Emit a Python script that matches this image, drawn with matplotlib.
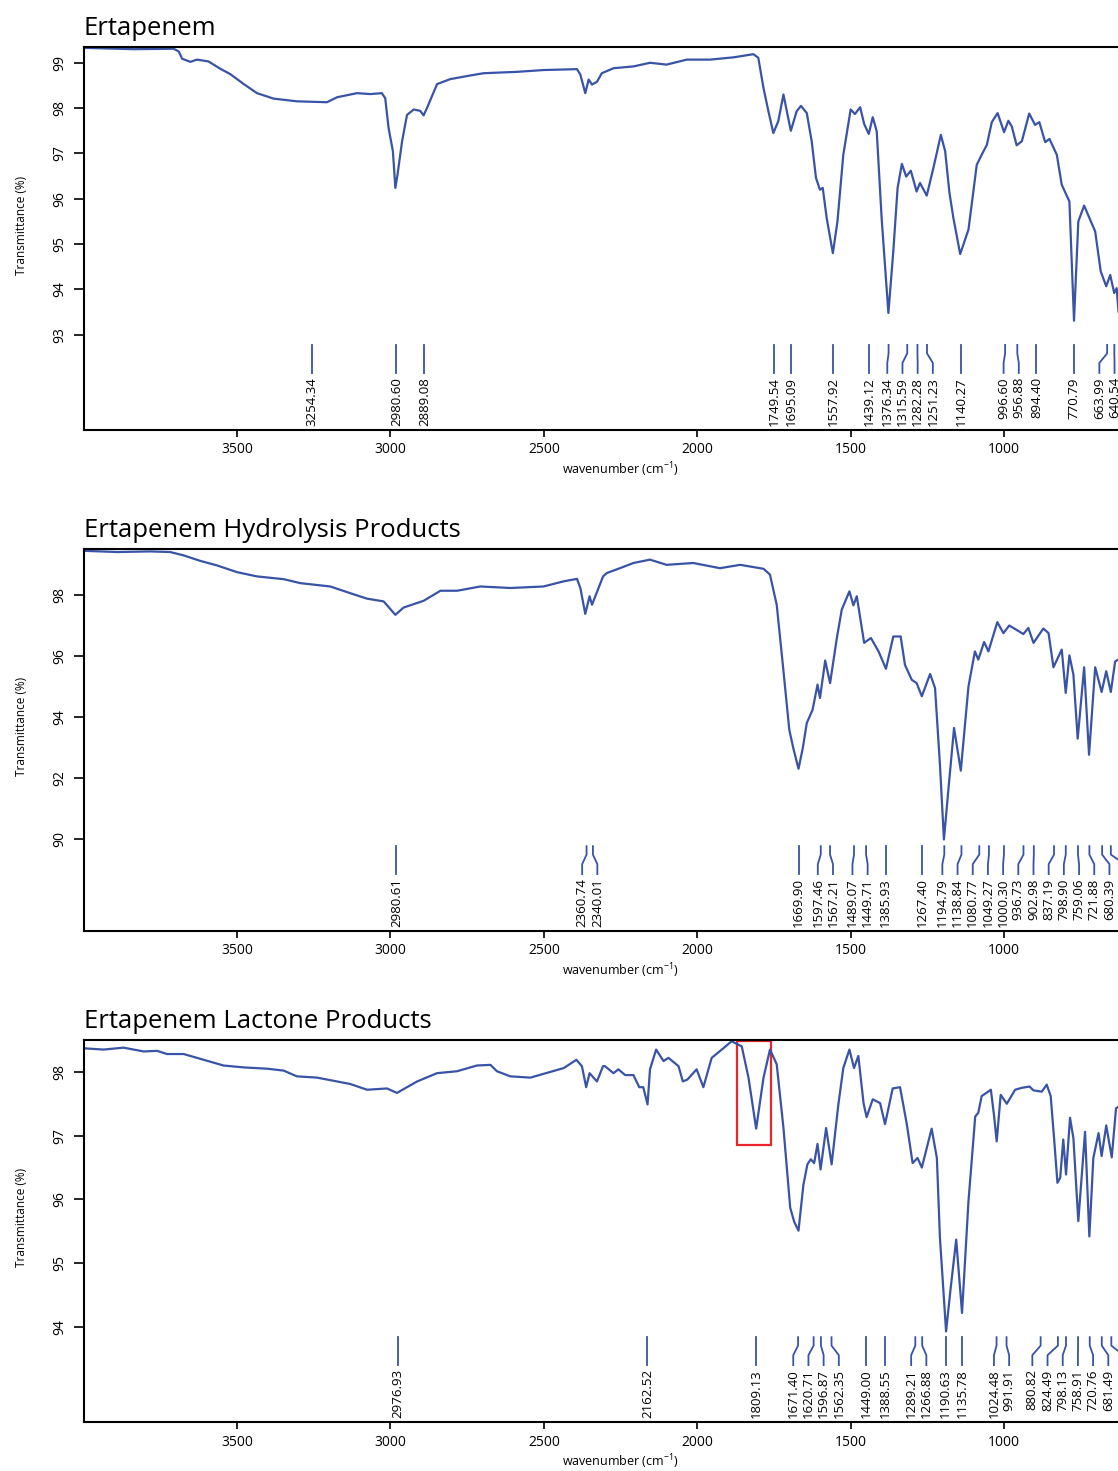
import numpy as np
import matplotlib
matplotlib.use("Agg")
import matplotlib.pyplot as plt
from matplotlib.patches import Rectangle
from matplotlib.transforms import offset_copy

plt.rcParams['font.family'] = ['Open Sans', 'DejaVu Sans']

# ---- spectrum 1 : Ertapenem ----
wn1 = [4000, 3837, 3707, 3690, 3679, 3652, 3631, 3593, 3555, 3522, 3478, 3435, 3381, 3305,
       3207, 3174, 3109, 3066, 3028, 3017, 3006, 2992, 2984, 2977, 2962, 2946, 2924, 2903,
       2892, 2881, 2848, 2805, 2740, 2696, 2588, 2501, 2392, 2381, 2365, 2354, 2343, 2327,
       2311, 2273, 2208, 2154, 2100, 2034, 1958, 1882, 1817, 1801, 1784, 1768, 1752, 1736,
       1719, 1708, 1695, 1676, 1662, 1643, 1627, 1613, 1600, 1591, 1578, 1558, 1543, 1524,
       1500, 1486, 1469, 1456, 1441, 1428, 1415, 1399, 1377, 1361, 1347, 1333, 1319, 1304,
       1285, 1274, 1252, 1230, 1206, 1192, 1178, 1165, 1143, 1116, 1089, 1073, 1056, 1040,
       1021, 1000, 986, 975, 959, 942, 918, 899, 885, 866, 852, 828, 812, 787, 772, 758,
       739, 717, 703, 685, 667, 654, 641, 633, 627]
tr1 = [99.33, 99.30, 99.31, 99.25, 99.09, 99.02, 99.07, 99.03, 98.87, 98.75, 98.53, 98.33, 98.21, 98.15,
       98.13, 98.24, 98.33, 98.31, 98.33, 98.22, 97.56, 97.05, 96.24, 96.53, 97.27, 97.85, 97.97, 97.94,
       97.84, 98.00, 98.53, 98.64, 98.72, 98.77, 98.80, 98.84, 98.86, 98.74, 98.33, 98.63, 98.52, 98.58,
       98.77, 98.88, 98.92, 99.00, 98.96, 99.07, 99.07, 99.12, 99.19, 99.11, 98.44, 97.93, 97.45, 97.71,
       98.30, 97.93, 97.50, 97.93, 98.05, 97.89, 97.27, 96.46, 96.20, 96.24, 95.57, 94.80, 95.50, 96.97,
       97.97, 97.87, 98.02, 97.65, 97.43, 97.80, 97.49, 95.57, 93.48, 94.84, 96.24, 96.77, 96.49, 96.62,
       96.16, 96.35, 96.07, 96.69, 97.41, 97.05, 96.13, 95.57, 94.78, 95.32, 96.75, 96.97, 97.19, 97.69,
       97.89, 97.47, 97.72, 97.60, 97.18, 97.27, 97.88, 97.63, 97.69, 97.25, 97.32, 96.97, 96.31, 95.94, 93.31, 95.50,
       95.85, 95.50, 95.28, 94.40, 94.07, 94.32, 93.92, 94.03, 93.51]

# ---- spectrum 2 : Ertapenem Hydrolysis Products ----
wn2 = [4000, 3891, 3783, 3718, 3674, 3620, 3565, 3500, 3435, 3348, 3294, 3196, 3131, 3076,
       3022, 2984, 2957, 2892, 2837, 2783, 2707, 2609, 2501, 2435, 2392, 2381, 2365, 2351,
       2343, 2307, 2295, 2252, 2208, 2154, 2100, 2013, 1926, 1860, 1784, 1763, 1741, 1721,
       1700, 1687, 1670, 1656, 1643, 1624, 1608, 1600, 1583, 1567, 1545, 1529, 1504, 1491,
       1480, 1456, 1434, 1409, 1385, 1361, 1337, 1323, 1301, 1285, 1268, 1241, 1225, 1209,
       1196, 1181, 1163, 1141, 1116, 1095, 1084, 1065, 1051, 1022, 1002, 983, 937, 921, 904,
       872, 855, 839, 812, 799, 787, 774, 760, 739, 723, 703, 682, 667, 652, 638, 628]
tr2 = [99.45, 99.41, 99.43, 99.41, 99.30, 99.12, 98.97, 98.75, 98.61, 98.52, 98.39, 98.28, 98.06, 97.88,
       97.79, 97.35, 97.59, 97.81, 98.14, 98.14, 98.28, 98.23, 98.28, 98.45, 98.53, 98.23, 97.38, 97.96,
       97.68, 98.61, 98.72, 98.88, 99.05, 99.16, 98.99, 99.05, 98.88, 98.99, 98.86, 98.67, 97.68, 95.71,
       93.58, 92.98, 92.30, 92.98, 93.80, 94.24, 95.06, 94.62, 95.85, 95.11, 96.59, 97.52, 98.12, 97.66,
       97.96, 96.43, 96.59, 96.15, 95.58, 96.64, 96.64, 95.71, 95.22, 95.11, 94.68, 95.41, 94.95, 92.44,
       89.98, 91.67, 93.64, 92.24, 95.00, 96.15, 95.88, 96.46, 96.15, 97.11, 96.75, 97.00, 96.72, 96.92, 96.43,
       96.90, 96.75, 95.63, 96.21, 94.79, 96.02, 95.39, 93.29, 95.63, 92.76, 95.63, 94.82, 95.50, 94.82, 95.82, 95.88]

# ---- spectrum 3 : Ertapenem Lactone Products ----
wn3 = [4000, 3935, 3870, 3804, 3761, 3728, 3674, 3631, 3587, 3544, 3478, 3402, 3348, 3305,
       3239, 3174, 3131, 3076, 3011, 2979, 2946, 2913, 2848, 2783, 2718, 2674, 2653, 2609,
       2544, 2479, 2435, 2394, 2376, 2362, 2351, 2327, 2307, 2301, 2273, 2257, 2235, 2208,
       2189, 2176, 2162, 2154, 2134, 2110, 2094, 2061, 2047, 2032, 2002, 1980, 1953, 1920,
       1888, 1855, 1833, 1808, 1784, 1763, 1741, 1719, 1697, 1684, 1670, 1654, 1641, 1630,
       1619, 1608, 1598, 1580, 1562, 1540, 1524, 1504, 1489, 1475, 1458, 1448, 1428, 1404,
       1388, 1363, 1339, 1317, 1298, 1282, 1268, 1236, 1219, 1209, 1189, 1174, 1156, 1137,
       1116, 1094, 1084, 1073, 1043, 1033, 1024, 1011, 991, 964, 942, 917, 904, 877, 861,
       848, 837, 826, 817, 807, 798, 785, 774, 758, 736, 722, 709, 692, 682, 667, 649, 635, 628]
tr3 = [98.37, 98.35, 98.38, 98.32, 98.33, 98.28, 98.28, 98.22, 98.16, 98.10, 98.07, 98.05, 98.02, 97.93,
       97.91, 97.85, 97.81, 97.72, 97.74, 97.67, 97.76, 97.85, 97.98, 98.01, 98.10, 98.11, 98.01, 97.93,
       97.91, 98.00, 98.06, 98.19, 98.09, 97.76, 97.98, 97.85, 98.09, 98.09, 97.98, 98.04, 97.95, 97.95,
       97.76, 97.76, 97.49, 98.04, 98.35, 98.17, 98.22, 98.09, 97.85, 97.88, 98.04, 97.76, 98.22, 98.35,
       98.48, 98.40, 97.91, 97.11, 97.91, 98.35, 98.12, 97.12, 95.87, 95.65, 95.51, 96.23, 96.55, 96.63,
       96.57, 96.87, 96.47, 97.12, 96.55, 97.49, 98.06, 98.35, 98.06, 98.25, 97.51, 97.29, 97.57, 97.51,
       97.18, 97.74, 97.76, 97.18, 96.57, 96.65, 96.50, 97.11, 96.65, 95.40, 93.93, 94.61, 95.37, 94.22,
       95.97, 97.30, 97.36, 97.62, 97.72, 97.33, 96.91, 97.64, 97.50, 97.72, 97.75, 97.77, 97.71, 97.69, 97.80,
       97.62, 96.96, 96.26, 96.34, 96.94, 96.39, 97.28, 96.96, 95.66, 97.06, 95.42, 96.65, 97.04, 96.68, 97.16, 96.66, 97.43, 97.45]

# ---- peak picks ----
peaks1 = [3254.34, 2980.60, 2889.08, 1749.54, 1695.09, 1557.92, 1439.12, 1376.34, 1315.59,
          1282.28, 1251.23, 1140.27, 996.60, 956.88, 894.40, 770.79, 663.99, 640.54, 615.21]
peaks2 = [2980.61, 2360.74, 2340.01, 1669.90, 1597.46, 1567.21, 1489.07, 1449.71, 1385.93,
          1267.40, 1194.79, 1138.84, 1080.77, 1049.27, 1000.30, 936.73, 902.98, 837.19,
          798.90, 759.06, 721.88, 680.39, 651.94]
peaks3 = [2976.93, 2162.52, 1809.13, 1671.40, 1620.71, 1596.87, 1562.35, 1449.00, 1388.55,
          1289.21, 1266.88, 1190.63, 1135.78, 1024.48, 991.91, 880.82, 824.49, 798.13,
          758.91, 720.76, 681.49, 650.38]

titles = ['Ertapenem', 'Ertapenem Hydrolysis Products', 'Ertapenem Lactone Products']
ylims = [(90.9, 99.35), (86.98, 99.51), (92.51, 98.50)]
yticks = [[93, 94, 95, 96, 97, 98, 99], [90, 92, 94, 96, 98], [94, 95, 96, 97, 98]]
xticks = [3500, 3000, 2500, 2000, 1500, 1000, 500]

# highlighted region in the lactone spectrum
box_x = (1759, 1871)
box_y = (96.85, 98.48)

BLUE = '#3953a6'
LABEL_GAP = 49.5   # min distance between peak labels, cm-1


def spread(peaks, gap):
    # push overlapping labels apart, each group centred on its peaks
    u = [-p for p in peaks]
    clusters = []
    for v in u:
        clusters.append([v])
        while len(clusters) > 1:
            a, b = clusters[-2], clusters[-1]
            a_end = np.mean(a) + (len(a) - 1) / 2 * gap
            b_start = np.mean(b) - (len(b) - 1) / 2 * gap
            if b_start - a_end < gap:
                clusters[-2:] = [a + b]
            else:
                break
    pos = []
    for c in clusters:
        start = np.mean(c) - (len(c) - 1) / 2 * gap
        pos += [-(start + k * gap) for k in range(len(c))]
    return pos


fig = plt.figure(figsize=(11.18, 14.71), dpi=100)
rects = [[0.0748, 0.7077, 0.9605, 0.2604],
         [0.0748, 0.3671, 0.9605, 0.2597],
         [0.0748, 0.0333, 0.9605, 0.2597]]

spectra = [(wn1, tr1, peaks1), (wn2, tr2, peaks2), (wn3, tr3, peaks3)]

for i, (wn, tr, peaks) in enumerate(spectra):
    ax = fig.add_axes(rects[i])
    ax.plot(wn, tr, color=BLUE, lw=1.6, solid_joinstyle='round')
    ax.set_xlim(4000, 500)
    ax.set_ylim(*ylims[i])
    ax.set_xticks(xticks)
    ax.set_yticks(yticks[i])
    ax.tick_params(axis='x', direction='out', length=5, width=1.2, pad=4, labelsize=10)
    ax.tick_params(axis='y', direction='out', length=7, width=1.2, pad=5, labelsize=10)
    plt.setp(ax.get_yticklabels(), rotation=90, va='center')
    for s in ax.spines.values():
        s.set_linewidth(1.5)
    ax.set_xlabel('wavenumber (cm$^{\\mathregular{-1}}$)', fontsize=9, labelpad=2)
    ax.set_ylabel('Transmittance (%)', fontsize=8.5)
    ax.yaxis.set_label_coords(-0.052, 0.535)

    tt = offset_copy(ax.transAxes, fig=fig, y=12, units='dots')
    ax.text(0, 1, titles[i], transform=tt, fontsize=18.5, ha='left', va='baseline')

    # peak markers
    trans = ax.get_xaxis_transform()
    pos = spread(peaks, LABEL_GAP)
    for p, q in zip(peaks, pos):
        ax.plot([p, p, q, q], [0.222, 0.20, 0.175, 0.149], transform=trans,
                color=BLUE, lw=1.3, clip_on=False)
        ax.text(q, 0.138, f'{p:.2f}', transform=trans, rotation=90,
                ha='center', va='top', fontsize=9.5)

    if i == 2:
        ax.add_patch(Rectangle((box_x[0], box_y[0]), box_x[1] - box_x[0],
                               box_y[1] - box_y[0], fill=False,
                               edgecolor='#e8262b', lw=1.6))

plt.savefig('out.png', dpi=100)
